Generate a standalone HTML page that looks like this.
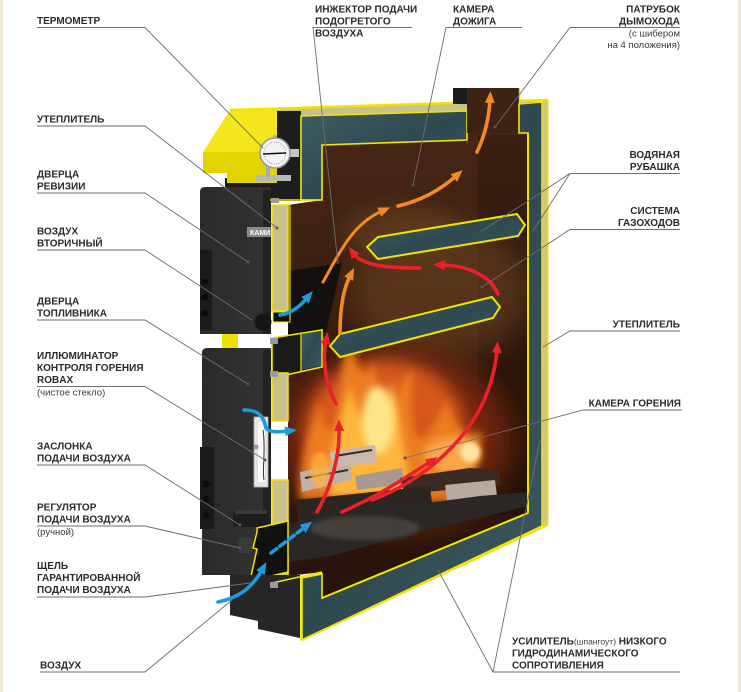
<!DOCTYPE html>
<html><head><meta charset="utf-8">
<style>
html,body{margin:0;padding:0;background:#fff;}
svg{display:block;}
text{font-family:"Liberation Sans","DejaVu Sans",sans-serif;fill:#2a2a2a;}
.b{font-weight:bold;font-size:10px;}
.r{font-size:9.5px;fill:#3a3a3a;font-weight:normal;}
</style></head><body>
<svg width="741" height="692" viewBox="0 0 741 692" xmlns="http://www.w3.org/2000/svg">
<defs>
<filter id="bl2" x="-50%" y="-50%" width="200%" height="200%"><feGaussianBlur stdDeviation="2"/></filter>
<filter id="bl4" x="-50%" y="-50%" width="200%" height="200%"><feGaussianBlur stdDeviation="4"/></filter>
<filter id="bl8" x="-50%" y="-50%" width="200%" height="200%"><feGaussianBlur stdDeviation="8"/></filter>
<filter id="bl14" x="-50%" y="-50%" width="200%" height="200%"><feGaussianBlur stdDeviation="14"/></filter>
<linearGradient id="chg" x1="0" y1="0" x2="0" y2="1">
<stop offset="0" stop-color="#4a2817"/><stop offset="0.45" stop-color="#3a1e10"/><stop offset="1" stop-color="#26130a"/>
</linearGradient>
<linearGradient id="tl" x1="0" y1="0" x2="1" y2="1">
<stop offset="0" stop-color="#3d5d63"/><stop offset="0.5" stop-color="#2e4a50"/><stop offset="1" stop-color="#3a585e"/>
</linearGradient>
<linearGradient id="dr" x1="0" y1="0" x2="1" y2="0">
<stop offset="0" stop-color="#2a2a2a"/><stop offset="1" stop-color="#333"/>
</linearGradient>
<clipPath id="ch"><polygon points="322,145 467,140 467,88 519,88 519,133 528,133 528,513 322,598 322,572 288,576 288,368 322,366 322,331 288,336 288,205 322,200"/></clipPath>
<marker id="mr" viewBox="0 0 12 10" markerUnits="userSpaceOnUse" markerWidth="12" markerHeight="11" refX="3" refY="5" orient="auto"><path d="M0,0 L12,5 L0,10 Z" fill="#e8212b"/></marker>
<marker id="mo" viewBox="0 0 12 10" markerUnits="userSpaceOnUse" markerWidth="12" markerHeight="11" refX="3" refY="5" orient="auto"><path d="M0,0 L12,5 L0,10 Z" fill="#f28a26"/></marker>
<marker id="mb" viewBox="0 0 12 10" markerUnits="userSpaceOnUse" markerWidth="12" markerHeight="11" refX="3" refY="5" orient="auto"><path d="M0,0 L12,5 L0,10 Z" fill="#1e9bdc"/></marker>
</defs>

<rect x="0" y="0" width="741" height="692" fill="#fff"/>
<rect x="0" y="0" width="3" height="692" fill="#efe9dc"/>
<rect x="738" y="0" width="3" height="692" fill="#efe9dc"/>

<!-- yellow side behind doors -->
<rect x="222" y="322" width="16" height="30" fill="#efe000"/>
<rect x="225" y="178" width="52" height="24" fill="#1c1c1c"/>

<!-- hood -->
<polygon points="230,110 277,108 277,183 227,183 227,173 203,173 203,152" fill="#f3e61c"/>
<polygon points="203,152 277,152 277,183 227,183 227,173 203,173" fill="#e2d400"/>
<!-- top strip -->
<polygon points="277,108 548,100 548,108 277,117" fill="#c8c28a"/>
<line x1="230" y1="110" x2="548" y2="100" stroke="#f2e400" stroke-width="2.5"/>

<!-- front plate behind thermometer -->
<rect x="277" y="111" width="24" height="90" fill="#1d1d1d"/>

<!-- chamber interior -->
<g clip-path="url(#ch)">
<rect x="280" y="85" width="260" height="520" fill="url(#chg)"/>
<rect x="478" y="135" width="52" height="380" fill="#000" opacity="0.18"/>
<ellipse cx="440" cy="290" rx="90" ry="70" fill="#6e4420" opacity="0.55" filter="url(#bl14)"/>
<ellipse cx="400" cy="232" rx="60" ry="28" fill="#6a4524" opacity="0.5" filter="url(#bl8)"/>
<polygon points="288,271 342,263 326,332 288,336" fill="#151010"/>
<!-- fire -->
<ellipse cx="395" cy="440" rx="115" ry="90" fill="#7a2608" opacity="0.9" filter="url(#bl14)"/>
<ellipse cx="385" cy="430" rx="80" ry="70" fill="#d6581a" filter="url(#bl8)"/>
<path d="M300,500 C295,460 312,430 320,400 C324,430 330,440 336,420 C342,390 338,360 352,338 C356,370 366,385 374,362 C380,390 376,420 388,414 C396,398 402,380 412,368 C414,400 406,430 422,440 C432,430 440,414 448,400 C452,430 470,440 482,430 C480,462 470,490 460,502 Z" fill="#f08024" opacity="0.9" filter="url(#bl4)"/>
<path d="M330,495 C326,455 340,425 350,385 C358,415 364,432 372,405 C378,430 386,402 392,380 C398,410 404,450 412,495 Z" fill="#ffb63a" filter="url(#bl4)"/>
<ellipse cx="378" cy="420" rx="16" ry="34" fill="#ffe58a" filter="url(#bl4)"/>
<ellipse cx="452" cy="455" rx="28" ry="18" fill="#f8a646" filter="url(#bl4)"/>
<ellipse cx="470" cy="452" rx="10" ry="10" fill="#ffe6a0" filter="url(#bl2)"/>
<!-- logs -->
<polygon points="300,472 350,462 352,480 302,492" fill="#bfb0a8"/>
<polygon points="330,452 375,445 377,462 332,468" fill="#c7b8b0"/>
<polygon points="355,476 402,468 404,484 357,490" fill="#a99990"/>
<line x1="305" y1="478" x2="348" y2="470" stroke="#3a2a22" stroke-width="2"/>
<line x1="335" y1="456" x2="372" y2="450" stroke="#3a2a22" stroke-width="2"/>
<polygon points="400,478 470,468 500,470 500,485 405,494" fill="#3a2a22"/>
<polygon points="445,485 495,480 497,496 447,500" fill="#b8aaa2"/>
<polygon points="296,500 430,486 432,504 298,520" fill="#2e2420"/>
<polygon points="288,525 340,506 420,504 480,496 528,492 528,506 420,532 330,556 288,562" fill="#2b2725"/>
<ellipse cx="365" cy="528" rx="55" ry="12" fill="#4b4643" opacity="0.8" filter="url(#bl2)"/>
<ellipse cx="320" cy="470" rx="10" ry="18" fill="#ffb040" opacity="0.8" filter="url(#bl2)"/>
</g>

<!-- top jacket -->
<polygon points="301,116 467,111 467,140 322,145 322,200 301,200" fill="url(#tl)" stroke="#f2e400" stroke-width="1.6"/>
<!-- chimney -->
<rect x="453" y="88" width="14" height="16" fill="#1b1b1b"/>
<rect x="467" y="88" width="52" height="45" fill="#3e2214"/>
<line x1="519.5" y1="88" x2="519.5" y2="133" stroke="#e6da30" stroke-width="1.4"/>
<!-- right + bottom jacket -->
<polygon points="519,104 542,102 542,526 302,640 302,578 322,574 322,598 528,513 528,133 519,133" fill="url(#tl)" stroke="#f2e400" stroke-width="1.6"/>
<polygon points="542,101 548,100 548,524 542,527" fill="#cfc77a" stroke="#f2e400" stroke-width="1"/>
<line x1="528" y1="133" x2="528" y2="513" stroke="#f2e400" stroke-width="2"/>
<line x1="322" y1="598" x2="528" y2="513" stroke="#f2e400" stroke-width="2"/>
<line x1="302" y1="640" x2="548" y2="525" stroke="#f2e400" stroke-width="2"/>

<!-- baffles -->
<polygon points="367,247 378,237 517,214 525,225 518,236 378,259" fill="url(#tl)" stroke="#f2e400" stroke-width="2"/>
<polygon points="330,346 340,334 492,297 500,307 493,318 340,357" fill="url(#tl)" stroke="#f2e400" stroke-width="2"/>

<!-- thermometer -->
<rect x="256" y="175" width="35" height="6" fill="#b8b8b8"/>
<rect x="266" y="165" width="4" height="12" fill="#aaa"/>
<rect x="286" y="149" width="13" height="8" fill="#c4c4c4"/>
<circle cx="275" cy="153" r="15" fill="#f3f3f3" stroke="#9a9a9a" stroke-width="1.6"/>
<circle cx="275" cy="153" r="11" fill="none" stroke="#777" stroke-width="0.8" stroke-dasharray="1 1.5"/>
<line x1="263" y1="154" x2="286" y2="153" stroke="#111" stroke-width="1.6"/>
<circle cx="275" cy="137" r="2" fill="#aaa"/>

<!-- upper door -->
<path d="M205,187 H271 V334 H200 V192 Q200,187 205,187 Z" fill="url(#dr)"/>
<rect x="263" y="190" width="8" height="144" fill="#222"/>
<rect x="200" y="250" width="12" height="80" fill="#1a1a1a"/>
<circle cx="205" cy="282" r="3.2" fill="#0c0c0c"/>
<circle cx="205" cy="297" r="3.2" fill="#0c0c0c"/>
<circle cx="205" cy="313" r="3.2" fill="#0c0c0c"/>
<rect x="247" y="227" width="24" height="10" fill="#8a8a8a"/>
<text x="250" y="235" style="font-size:7px;fill:#fff;font-weight:bold">КАМИ</text>
<!-- upper insulation -->
<line x1="270" y1="200" x2="322" y2="200" stroke="#f2e400" stroke-width="1.6"/>
<rect x="271" y="198" width="8" height="5" fill="#9a9a9a"/>
<rect x="272" y="205" width="16" height="106" fill="#c9c18a" stroke="#f2e400" stroke-width="1.5"/>
<line x1="290" y1="205" x2="290" y2="320" stroke="#f2e400" stroke-width="1.2"/>
<polygon points="273,312 290,312 290,322 273,322" fill="#111" stroke="#f2e400" stroke-width="1"/>
<circle cx="263" cy="322" r="8.5" fill="#161616"/>

<!-- front box between doors -->
<polygon points="272,338 322,330 322,367 272,378" fill="#1b1b1b" stroke="#f2e400" stroke-width="1.6"/>
<polygon points="301,334 321,331 321,366 301,370" fill="url(#tl)"/>
<line x1="301" y1="334" x2="301" y2="371" stroke="#f2e400" stroke-width="1.2"/>
<rect x="270" y="338" width="8" height="6" fill="#9a9a9a"/>

<!-- lower door -->
<path d="M207,348 H271 V575 H202 V353 Q202,348 207,348 Z" fill="url(#dr)"/>
<rect x="263" y="350" width="8" height="225" fill="#222"/>
<rect x="200" y="447" width="14" height="82" fill="#1a1a1a"/>
<circle cx="206" cy="484" r="3.5" fill="#0c0c0c"/>
<circle cx="206" cy="499" r="3.5" fill="#0c0c0c"/>
<circle cx="206" cy="515" r="3.5" fill="#0c0c0c"/>
<rect x="254" y="417" width="14" height="70" fill="#e4e4e4" stroke="#b5b5b5" stroke-width="0.8"/>
<rect x="258" y="422" width="7" height="60" fill="#fafafa"/>
<path d="M263,430 C266,450 262,468 264,480" stroke="#333" stroke-width="1" fill="none"/>
<circle cx="256" cy="447" r="2.5" fill="#999"/>
<rect x="233" y="512" width="36" height="15" fill="#1c1c1c"/>
<rect x="235" y="510" width="32" height="4" fill="#3a3a3a"/>
<rect x="238" y="538" width="14" height="15" rx="3" fill="#3a3a3a"/>
<!-- lower insulation -->
<rect x="272" y="373" width="16" height="48" fill="#c9c18a" stroke="#f2e400" stroke-width="1.5"/>
<rect x="272" y="480" width="16" height="44" fill="#c9c18a" stroke="#f2e400" stroke-width="1.5"/>
<rect x="272" y="558" width="16" height="25" fill="#c9c18a" stroke="#f2e400" stroke-width="1.5"/>
<rect x="270" y="371" width="8" height="6" fill="#9a9a9a"/>
<polygon points="257,528 288,521 288,572 250,581 257,549 253,548 257,532" fill="#111" stroke="#f2e400" stroke-width="1.5"/>
<!-- bottom block -->
<polygon points="230,575 300,575 300,638 258,629 258,621 230,615" fill="#262626"/>
<line x1="272" y1="583" x2="322" y2="572" stroke="#f2e400" stroke-width="1.6"/>
<line x1="301" y1="578" x2="301" y2="640" stroke="#f2e400" stroke-width="1.6"/>
<rect x="270" y="582" width="8" height="6" fill="#9a9a9a"/>

<!-- arrows -->
<g fill="none" stroke-width="3.6" stroke-linecap="round">
<path d="M317,512 C332,485 340,455 339,428" stroke="#e8212b" marker-end="url(#mr)"/>
<path d="M336,404 C326,385 322,360 326,341" stroke="#e8212b" marker-end="url(#mr)"/>
<path d="M420,268 C385,268 362,265 354,254" stroke="#e8212b" marker-end="url(#mr)"/>
<path d="M498,294 C490,276 470,266 442,265" stroke="#e8212b" marker-end="url(#mr)"/>
<path d="M372,500 C425,480 490,430 497,350" stroke="#e8212b" marker-end="url(#mr)"/>
<path d="M342,512 C380,495 405,478 430,462" stroke="#e8212b" marker-end="url(#mr)"/>
<path d="M340,333 C340,305 344,288 350,276" stroke="#f28a26" marker-end="url(#mo)"/>
<path d="M323,282 C336,260 350,225 382,211" stroke="#f28a26" marker-end="url(#mo)" stroke-width="3"/>
<path d="M398,206 C420,201 440,190 456,176" stroke="#f28a26" marker-end="url(#mo)"/>
<path d="M477,152 C485,135 489,118 490,100" stroke="#f28a26" marker-end="url(#mo)"/>
<path d="M280,315 C293,313 301,305 307,298" stroke="#1e9bdc" marker-end="url(#mb)"/>
<path d="M244,410 C262,410 264,420 266,428 C270,433 278,432 288,431" stroke="#1e9bdc" marker-end="url(#mb)"/>
<path d="M271,553 L305,527" stroke="#1e9bdc" stroke-dasharray="7 4" marker-end="url(#mb)"/>
<path d="M218,602 C238,598 252,588 262,570" stroke="#1e9bdc" marker-end="url(#mb)"/>
</g>

<!-- leaders -->
<g stroke="#6e6e6e" stroke-width="0.9" fill="none">
<polyline points="37,27.5 145,27.5 263,148"/>
<polyline points="37,126 145,126 277,228"/>
<polyline points="37,193 145,193 248,262"/>
<polyline points="37,250 145,250 252,320"/>
<polyline points="37,320 145,320 248,384"/>
<polyline points="37,386.5 145,386.5 265,460"/>
<polyline points="37,465 145,465 240,525"/>
<polyline points="37,526 145,526 240,548"/>
<polyline points="37,597 145,597 250,583"/>
<polyline points="40,672 145,672 232,600"/>
<polyline points="412,27.5 313,27.5 338,264"/>
<polyline points="522,27.5 446,27.5 413,185"/>
<polyline points="680,27.5 570,27.5 495,127"/>
<polyline points="680,173.5 570,173.5 482,231"/>
<line x1="570" y1="173.5" x2="533" y2="231"/>
<polyline points="680,229.5 570,229.5 482,287"/>
<polyline points="680,331 570,331 543,347"/>
<polyline points="682,410 583,410 405,458"/>
<polyline points="680,672 493,672 438,570"/>
<line x1="493" y1="672" x2="540" y2="440"/>
</g>
<g fill="#555">
<circle cx="248" cy="262" r="1.5"/><circle cx="248" cy="384" r="1.5"/><circle cx="265" cy="460" r="1.5"/>
<circle cx="240" cy="525" r="1.5"/><circle cx="240" cy="548" r="1.5"/><circle cx="277" cy="228" r="1.5"/>
<circle cx="413" cy="185" r="1.5"/><circle cx="495" cy="127" r="1.5"/><circle cx="482" cy="231" r="1.5"/>
<circle cx="482" cy="287" r="1.5"/><circle cx="405" cy="458" r="1.5"/>
</g>

<!-- labels -->
<g class="b">
<text x="37" y="24">ТЕРМОМЕТР</text>
<text x="37" y="122.5">УТЕПЛИТЕЛЬ</text>
<text x="37" y="177.5">ДВЕРЦА</text><text x="37" y="189.5">РЕВИЗИИ</text>
<text x="37" y="234.5">ВОЗДУХ</text><text x="37" y="246.5">ВТОРИЧНЫЙ</text>
<text x="37" y="304.5">ДВЕРЦА</text><text x="37" y="316.5">ТОПЛИВНИКА</text>
<text x="37" y="359">ИЛЛЮМИНАТОР</text><text x="37" y="371">КОНТРОЛЯ ГОРЕНИЯ</text><text x="37" y="383">ROBAX</text>
<text x="37" y="449.5">ЗАСЛОНКА</text><text x="37" y="461.5">ПОДАЧИ ВОЗДУХА</text>
<text x="37" y="510.5">РЕГУЛЯТОР</text><text x="37" y="522.5">ПОДАЧИ ВОЗДУХА</text>
<text x="37" y="569">ЩЕЛЬ</text><text x="37" y="581">ГАРАНТИРОВАННОЙ</text><text x="37" y="593">ПОДАЧИ ВОЗДУХА</text>
<text x="40" y="668.5">ВОЗДУХ</text>
<text x="315" y="12.5">ИНЖЕКТОР ПОДАЧИ</text><text x="315" y="24.5">ПОДОГРЕТОГО</text><text x="315" y="36.5">ВОЗДУХА</text>
<text x="453" y="12.5">КАМЕРА</text><text x="453" y="24.5">ДОЖИГА</text>
<text x="680" y="12.5" text-anchor="end">ПАТРУБОК</text><text x="680" y="24.5" text-anchor="end">ДЫМОХОДА</text>
<text x="680" y="158" text-anchor="end">ВОДЯНАЯ</text><text x="680" y="170" text-anchor="end">РУБАШКА</text>
<text x="680" y="214" text-anchor="end">СИСТЕМА</text><text x="680" y="226" text-anchor="end">ГАЗОХОДОВ</text>
<text x="680" y="327.5" text-anchor="end">УТЕПЛИТЕЛЬ</text>
<text x="681" y="406.5" text-anchor="end">КАМЕРА ГОРЕНИЯ</text>
<text x="512" y="644.5">УСИЛИТЕЛЬ<tspan class="r" style="font-size:8.5px">(шпангоут)</tspan> НИЗКОГО</text>
<text x="512" y="656.5">ГИДРОДИНАМИЧЕСКОГО</text>
<text x="512" y="668.5">СОПРОТИВЛЕНИЯ</text>
</g>
<text class="r" x="37" y="395.5">(чистое стекло)</text>
<text class="r" x="37" y="535">(ручной)</text>
<text class="r" x="680" y="36.5" text-anchor="end">(с шибером</text>
<text class="r" x="680" y="48" text-anchor="end">на 4 положения)</text>
</svg>
</body></html>
